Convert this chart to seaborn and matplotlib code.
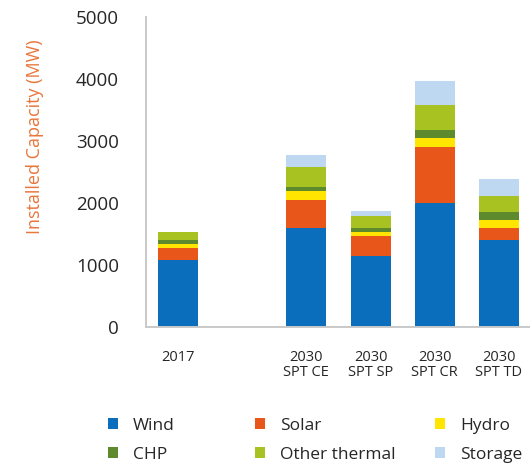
import matplotlib
matplotlib.use("Agg")
import matplotlib.pyplot as plt
import seaborn as sns
import pandas as pd
import numpy as np
from matplotlib.patches import Patch

# Installed capacity by technology (MW)
scenarios = ["2017", "gap", "CE", "SP", "CR", "TD"]
tick_labels = ["2017", "", "2030\nSPT CE", "2030\nSPT SP", "2030\nSPT CR", "2030\nSPT TD"]
wind = [1070, 0, 1590, 1130, 1985, 1395]
solar = [200, 0, 455, 330, 915, 195]
hydro = [60, 0, 135, 65, 135, 125]
chp = [65, 0, 65, 70, 135, 135]
other_thermal = [135, 0, 330, 190, 405, 260]
storage = [0, 0, 195, 80, 390, 270]

series_names = ["Wind", "Solar", "Hydro", "CHP", "Other thermal", "Storage"]
series_values = [wind, solar, hydro, chp, other_thermal, storage]
series_colors = ["#0A6EBD", "#E8561A", "#FFE500", "#5C8A2D", "#A8C222", "#BDD8F0"]

sns.set_theme(style="white")
plt.rcParams["font.family"] = ["Open Sans", "DejaVu Sans"]

fig = plt.figure(figsize=(5.30, 4.69), dpi=100)
ax = fig.add_axes([146 / 530, 1 - 326.5 / 469, 385 / 530, 310 / 469])

# table with cumulative tops for the stacked bars
df = pd.DataFrame({name: vals for name, vals in zip(series_names, series_values)},
                  index=scenarios)
cum = df.cumsum(axis=1)

# draw cumulative totals from the top layer down so each segment shows
for name, color in reversed(list(zip(series_names, series_colors))):
    sns.barplot(x=cum.index, y=cum[name].values, order=scenarios, color=color,
                saturation=1, width=0.625, linewidth=0, errorbar=None, ax=ax)

grey = "#C9C9C9"
text_dark = "#262626"
ax.set_ylim(0, 5000)
ax.set_xlim(-0.5, 5.5)
ax.set_yticks(np.arange(0, 5001, 1000))
ax.set_xticks(range(len(scenarios)))
ax.set_xticklabels(tick_labels, fontsize=10.5, color=text_dark, linespacing=1.0)
ax.set_xticks(np.arange(-0.5, 6.0, 1.0), minor=True)
ax.tick_params(axis="x", which="major", length=0, pad=17)
ax.tick_params(axis="x", which="minor", length=9.5, width=1.4, color=grey, direction="out")
ax.tick_params(axis="y", which="major", length=9.5, width=1.4, color=grey,
               direction="out", pad=10, labelsize=13.5, labelcolor=text_dark)

for side in ["top", "right"]:
    ax.spines[side].set_visible(False)
for side in ["left", "bottom"]:
    ax.spines[side].set_color(grey)
    ax.spines[side].set_linewidth(1.4)

ax.set_xlabel("")
ax.set_ylabel("Installed Capacity (MW)", fontsize=13, color="#E8763A", va="center")
ax.yaxis.set_label_coords((35 - 146) / 385, (326.5 - 137) / 310)

# legend in three columns of two entries
columns = [(0, 3), (1, 4), (2, 5)]
col_x = [108, 255, 435]
for (a, b), x in zip(columns, col_x):
    handles = [Patch(facecolor=series_colors[i], edgecolor="none", label=series_names[i])
               for i in (a, b)]
    fig.legend(handles=handles, loc="center left",
               bbox_to_anchor=(x / 530, 1 - 440.5 / 469), frameon=False,
               fontsize=12.5, handlelength=0.6, handleheight=0.6,
               handletextpad=0.85, labelspacing=0.75, borderpad=0,
               borderaxespad=0, labelcolor=text_dark)

fig.savefig("out.png", dpi=100)
